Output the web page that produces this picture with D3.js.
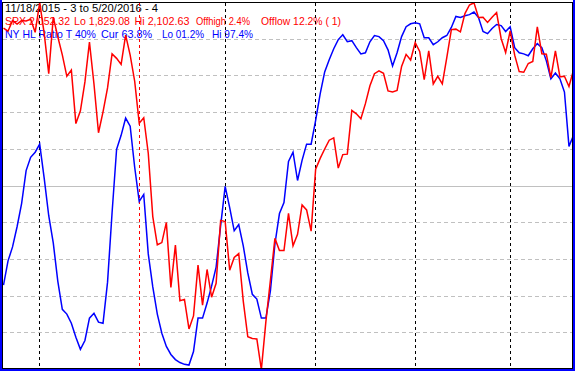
<!DOCTYPE html>
<html>
<head>
<meta charset="utf-8">
<script src="https://cdn.jsdelivr.net/npm/d3@7"></script>
<style>
  body { margin: 0; background: #fff; }
  svg { display: block; }
  text { font-family: "Liberation Sans", Arial, sans-serif; font-size: 10.8px; }
</style>
</head>
<body>
<div id="chart"></div>
<script>
// trading days shown on the chart
const dates = [
  "2015-11-18","2015-11-19","2015-11-20","2015-11-23","2015-11-24","2015-11-25","2015-11-27","2015-11-30",
  "2015-12-01","2015-12-02","2015-12-03","2015-12-04","2015-12-07","2015-12-08","2015-12-09","2015-12-10","2015-12-11",
  "2015-12-14","2015-12-15","2015-12-16","2015-12-17","2015-12-18","2015-12-21","2015-12-22","2015-12-23","2015-12-24",
  "2015-12-28","2015-12-29","2015-12-30","2015-12-31",
  "2016-01-04","2016-01-05","2016-01-06","2016-01-07","2016-01-08","2016-01-11","2016-01-12","2016-01-13","2016-01-14",
  "2016-01-15","2016-01-19","2016-01-20","2016-01-21","2016-01-22","2016-01-25","2016-01-26","2016-01-27","2016-01-28","2016-01-29",
  "2016-02-01","2016-02-02","2016-02-03","2016-02-04","2016-02-05","2016-02-08","2016-02-09","2016-02-10","2016-02-11",
  "2016-02-12","2016-02-16","2016-02-17","2016-02-18","2016-02-19","2016-02-22","2016-02-23","2016-02-24","2016-02-25",
  "2016-02-26","2016-02-29",
  "2016-03-01","2016-03-02","2016-03-03","2016-03-04","2016-03-07","2016-03-08","2016-03-09","2016-03-10","2016-03-11",
  "2016-03-14","2016-03-15","2016-03-16","2016-03-17","2016-03-18","2016-03-21","2016-03-22","2016-03-23","2016-03-24",
  "2016-03-28","2016-03-29","2016-03-30","2016-03-31",
  "2016-04-01","2016-04-04","2016-04-05","2016-04-06","2016-04-07","2016-04-08","2016-04-11","2016-04-12","2016-04-13",
  "2016-04-14","2016-04-15","2016-04-18","2016-04-19","2016-04-20","2016-04-21","2016-04-22","2016-04-25","2016-04-26",
  "2016-04-27","2016-04-28","2016-04-29",
  "2016-05-02","2016-05-03","2016-05-04","2016-05-05","2016-05-06","2016-05-09","2016-05-10","2016-05-11","2016-05-12",
  "2016-05-13","2016-05-16","2016-05-17","2016-05-18","2016-05-19","2016-05-20"
];

// SPX closes
const spx = [
  2083.58, 2081.24, 2089.17, 2086.59, 2089.14, 2088.87, 2090.11, 2080.41,
  2102.63, 2079.51, 2049.62, 2091.69, 2077.07, 2063.59, 2047.62, 2052.23, 2012.37,
  2021.94, 2043.41, 2073.07, 2041.89, 2005.55, 2021.15, 2038.97, 2064.29, 2060.99,
  2056.50, 2078.36, 2063.36, 2043.94,
  2012.66, 2016.71, 1990.26, 1943.09, 1922.03, 1923.67, 1938.68, 1890.28, 1921.84,
  1880.33, 1881.33, 1859.33, 1868.99, 1906.90, 1877.08, 1903.63, 1882.95, 1893.36, 1940.24,
  1939.38, 1903.03, 1912.53, 1915.45, 1880.05, 1853.44, 1852.21, 1851.86, 1829.08,
  1864.78, 1895.58, 1926.82, 1917.83, 1917.78, 1945.50, 1921.27, 1929.80, 1951.70,
  1948.05, 1932.23,
  1978.35, 1986.45, 1993.40, 1999.99, 2001.76, 1979.26, 1989.26, 1989.57, 2022.19,
  2019.64, 2015.93, 2027.22, 2040.59, 2049.58, 2051.60, 2049.80, 2036.71, 2035.94,
  2037.05, 2055.01, 2063.95, 2059.74,
  2072.78, 2066.13, 2045.17, 2066.66, 2041.91, 2047.60, 2041.99, 2061.72, 2082.42,
  2082.78, 2080.73, 2094.34, 2100.80, 2102.40, 2091.48, 2091.58, 2087.79, 2091.70,
  2095.15, 2075.81, 2065.30,
  2081.43, 2063.37, 2051.12, 2050.63, 2057.14, 2058.69, 2084.39, 2064.46, 2064.11,
  2046.61, 2066.66, 2047.21, 2047.63, 2040.04, 2052.32
];

// NY high/low ratio, smoothed (percent)
const hlRatio = [
  23.0, 29.6, 33.4, 38.9, 45.2, 54.2, 57.8, 59.2,
  61.4, 52.1, 41.9, 34.5, 24.1, 16.4, 15.1, 12.6, 8.8,
  5.5, 7.9, 14.0, 15.3, 12.9, 12.6, 23.8, 42.7, 60.0,
  63.8, 68.5, 66.3, 55.1,
  45.8, 47.7, 31.5, 22.5, 15.1, 9.9, 6.3, 4.1, 2.7,
  1.9, 1.4, 1.2, 4.9, 14.0, 14.0, 18.1, 22.7, 27.9, 39.2,
  49.9, 44.1, 37.8, 39.5, 33.7, 26.3, 20.5, 19.2, 14.0,
  14.0, 21.4, 34.2, 42.5, 45.5, 56.7, 59.2, 51.5, 57.0,
  61.4, 61.4,
  67.9, 75.1, 81.1, 84.4, 87.4, 89.9, 91.2, 89.3, 89.6,
  87.7, 86.0, 86.3, 89.3, 91.0, 90.7, 89.6, 87.1, 82.7,
  86.3, 90.7, 93.4, 94.2,
  94.5, 94.2, 90.4, 90.4, 88.5, 89.3, 90.4, 91.0, 93.2,
  96.2, 95.9, 96.4, 96.7, 97.4, 95.9, 92.1, 91.5, 92.9,
  94.0, 93.7, 92.1,
  93.4, 87.7, 86.3, 86.0, 85.5, 87.4, 88.8, 87.7, 84.1,
  79.2, 80.8, 79.2, 75.6, 60.8, 63.8
];

const rangeLabel = "11/18/2015 - 3 to 5/20/2016 - 4";
const spxName = "SPX";
const ratioName = "NY HL Ratio T 40%";
const gridTicks = [10, 20, 30, 40, 50, 60, 70, 80, 90];
const solidTick = 50;

const W = 576, H = 371;
const crisp = v => Math.round(v - 0.5) + 0.5;

const svg = d3.select("#chart").append("svg")
  .attr("width", W)
  .attr("height", H);

svg.append("rect").attr("width", W).attr("height", H).attr("fill", "#fff");

const x = d3.scaleLinear().domain([0, dates.length - 1]).range([3.5, 573.5]);
const yRatio = d3.scaleLinear().domain([0, 100]).range([369.5, 2.5]);
const ySpx = d3.scaleLinear().domain(d3.extent(spx)).range([369.5, 2.5]);

svg.append("clipPath").attr("id", "plotClip")
  .append("rect").attr("x", 3).attr("y", 3).attr("width", 569).attr("height", 365);

// horizontal grid
svg.append("g")
  .selectAll("line")
  .data(gridTicks)
  .join("line")
  .attr("x1", 3).attr("x2", 572)
  .attr("y1", d => crisp(yRatio(d)))
  .attr("y2", d => crisp(yRatio(d)))
  .attr("stroke", "#c0c0c0")
  .attr("stroke-width", 1)
  .attr("stroke-dasharray", d => d === solidTick ? null : "4,3");

// header texts
const lo = d3.min(spx), hi = d3.max(spx), last = spx[spx.length - 1];
const fmt = d3.format(",.2f");
const rLo = d3.min(hlRatio), rHi = d3.max(hlRatio), rLast = hlRatio[hlRatio.length - 1];
const pct = d3.format("04.1f");

// x / width of each piece of the header, as laid out in the original
const labels = [
  {x: 5, y: 12, w: 153, color: "#000", text: rangeLabel},
  {x: 5, y: 25, w: 65, color: "#ff0000", text: `${spxName} ${fmt(last)}`},
  {x: 74, y: 25, w: 56, color: "#ff0000", text: `Lo ${fmt(lo)}`},
  {x: 134.5, y: 25, w: 55, color: "#ff0000", text: `Hi ${fmt(hi)}`},
  {x: 196, y: 25, w: 54, color: "#ff0000", text: `Offhigh ${((hi - last) / hi * 100).toFixed(1)}%`},
  {x: 261, y: 25, w: 80, color: "#ff0000", text: `Offlow ${((last - lo) / lo * 100).toFixed(1)}% ( 1)`},
  {x: 5, y: 38, w: 91, color: "#0000ff", text: ratioName},
  {x: 101, y: 38, w: 51, color: "#0000ff", text: `Cur ${pct(rLast)}%`},
  {x: 162, y: 38, w: 42, color: "#0000ff", text: `Lo ${pct(rLo)}%`},
  {x: 212, y: 38, w: 41, color: "#0000ff", text: `Hi ${pct(rHi)}%`}
];
svg.append("g")
  .selectAll("text")
  .data(labels)
  .join("text")
  .attr("x", d => d.x)
  .attr("y", d => d.y)
  .attr("fill", d => d.color)
  .attr("textLength", d => d.w)
  .attr("lengthAdjust", "spacingAndGlyphs")
  .attr("xml:space", "preserve")
  .text(d => d.text);

// month separators (red at a new year)
const monthStarts = [];
dates.forEach((d, i) => {
  if (i > 0 && d.slice(5, 7) !== dates[i - 1].slice(5, 7)) {
    monthStarts.push({i, newYear: d.slice(0, 4) !== dates[i - 1].slice(0, 4)});
  }
});
svg.append("g")
  .selectAll("line")
  .data(monthStarts)
  .join("line")
  .attr("x1", d => crisp(x(d.i)))
  .attr("x2", d => crisp(x(d.i)))
  .attr("y1", 3).attr("y2", 368)
  .attr("stroke", d => d.newYear ? "#ff0000" : "#000")
  .attr("stroke-width", 1)
  .attr("stroke-dasharray", "3,3");

// series
const plotG = svg.append("g").attr("clip-path", "url(#plotClip)");
plotG.append("path")
  .datum(hlRatio)
  .attr("fill", "none")
  .attr("stroke", "#0000ff")
  .attr("stroke-width", 1.5)
  .attr("d", d3.line().x((d, i) => x(i)).y(d => yRatio(d)));
plotG.append("path")
  .datum(spx)
  .attr("fill", "none")
  .attr("stroke", "#ff0000")
  .attr("stroke-width", 1.5)
  .attr("d", d3.line().x((d, i) => x(i)).y(d => ySpx(d)));

// frame
svg.append("rect")
  .attr("x", 2.5).attr("y", 2.5).attr("width", 570).attr("height", 366)
  .attr("fill", "none").attr("stroke", "#000").attr("stroke-width", 1);
svg.append("rect").attr("x", 0).attr("y", 0).attr("width", 2).attr("height", H).attr("fill", "#0000ff");
svg.append("rect").attr("x", 0).attr("y", 369).attr("width", 575).attr("height", 2).attr("fill", "#0000ff");
svg.append("rect").attr("x", 573).attr("y", 0).attr("width", 2).attr("height", H).attr("fill", "#0000ff");
</script>
</body>
</html>
